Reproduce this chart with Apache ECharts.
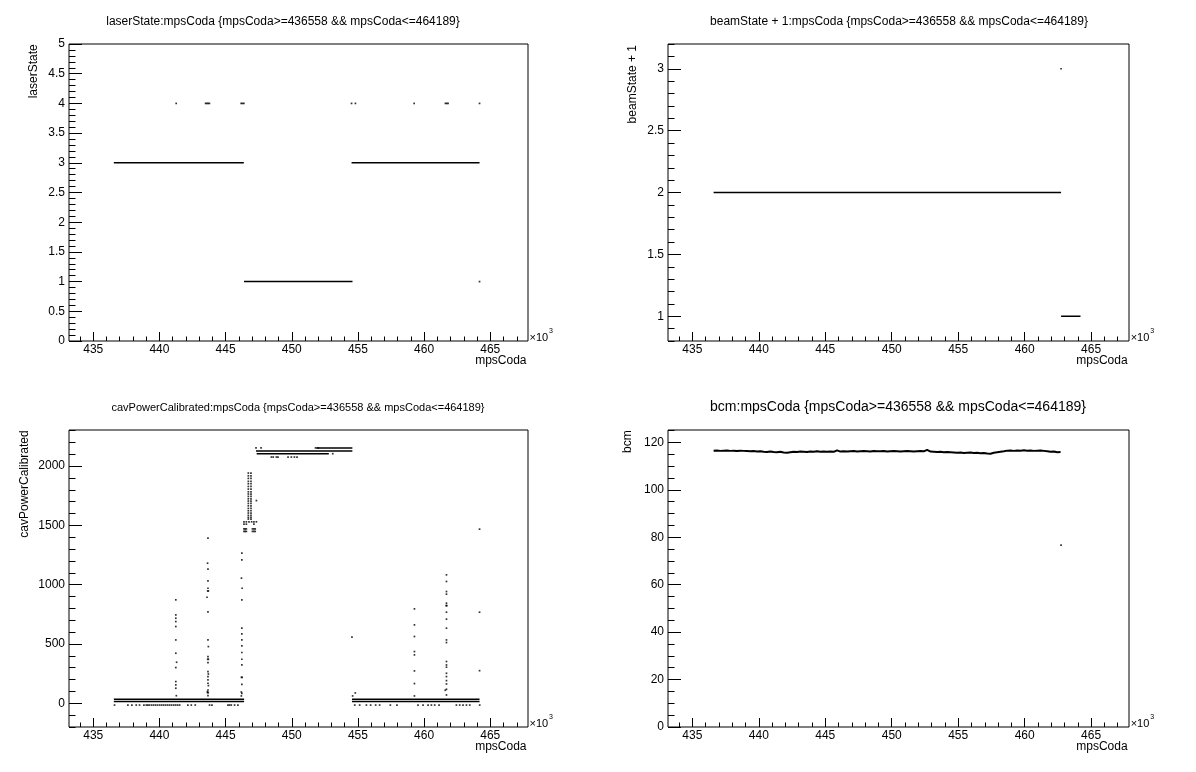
<!DOCTYPE html>
<html>
<head>
<meta charset="utf-8">
<script src="https://cdn.jsdelivr.net/npm/echarts@6/dist/echarts.min.js"></script>
<style>html,body{margin:0;padding:0;background:#fff}#c{width:1196px;height:772px}</style>
</head>
<body>
<div id="c"></div>
<script>
// ---------------- data ----------------
const X_MIN = 433170, X_MAX = 467850;
const xMajorTicks = [435000, 440000, 445000, 450000, 455000, 460000, 465000];

// panel 1: laserState
const laserYTicks = [0, 0.5, 1, 1.5, 2, 2.5, 3, 3.5, 4, 4.5, 5];
const laserRuns = [[436558, 446380, 3], [446390, 454590, 1], [454520, 464189, 3]];
const laserDots = [[441270,4],[443490,4],[443580,4],[443680,4],[443780,4],[446180,4],[446280,4],[446380,4],
  [454520,4],[454810,4],[459250,4],[461610,4],[461710,4],[461810,4],[464189,4],[464189,1]];

// panel 2: beamState + 1
const beamYTicks = [1, 1.5, 2, 2.5, 3];
const beamRuns = [[436600, 462740, 2], [462740, 464200, 1]];
const beamDots = [[462740, 3]];

// panel 3: cavPowerCalibrated
const cavYTicks = [0, 500, 1000, 1500, 2000];
const cavRuns = [[436558, 446400, 34], [436558, 446400, 14], [454550, 464189, 34], [454550, 464189, 14],
  [451850, 454580, 2153], [447300, 454580, 2128], [447350, 452800, 2103]];
const cavLowDots = [[436610,-15],[437620,-15],[437920,-15],[438250,-15],[438500,-15],[438830,-15],[439010,-15],
  [439130,-15],[439250,-15],[439410,-15],[439560,-15],[439710,-15],[439860,-15],[440020,-15],[440170,-15],
  [440320,-15],[440470,-15],[440620,-15],[440770,-15],[440920,-15],[441080,-15],[441230,-15],[441380,-15],
  [441530,-15],[442150,-15],[442410,-15],[442710,-15],[443790,-15],[443970,-15],[445180,-15],[445300,-15],
  [445430,-15],[445680,-15],[445930,-15],
  [454760,-15],[455130,-15],[455640,-15],[455960,-15],[456340,-15],[456640,-15],[457450,-15],[457950,-15],
  [459540,-15],[459920,-15],[460300,-15],[460550,-15],[460800,-15],[461130,-15],[462440,-15],[462690,-15],
  [462940,-15],[463200,-15],[463450,-15],[464200,-15]];
const cavSpikeDots = [
  [441240,872],[441240,745],[441240,717],[441240,689],[441240,647],[441240,534],[441240,422],[441300,346],
  [441240,301],[441240,183],[441240,155],[441240,127],[441280,64],
  [443670,1392],[443640,1181],[443670,1131],[443670,1032],[443670,970],[443650,947],[443700,947],[443600,894],
  [443670,771],[443670,534],[443700,478],[443670,394],[443650,371],[443700,371],[443670,343],[443670,267],
  [443700,247],[443670,225],[443670,197],[443670,169],[443700,149],[443670,112],[443640,90],[443690,90],
  [443630,98],[443670,64],
  [446230,1266],[446230,1209],[446200,1055],[446250,970],[446230,872],[446230,633],[446230,585],[446230,534],
  [446230,484],[446230,428],[446230,371],[446230,323],[446200,219],[446250,219],[446230,160],[446230,84],
  [446190,62],[446190,95],
  [454550,557],[454600,62],[454800,87],
  [459270,796],[459270,661],[459270,563],[459270,436],[459270,408],[459270,273],[459270,166],[459270,62],
  [461690,1083],[461690,1027],[461690,942],[461690,920],[461690,844],[461660,824],[461720,824],[461690,768],
  [461690,709],[461690,633],[461690,534],[461690,512],[461690,352],[461690,323],[461690,304],[461690,253],
  [461690,225],[461690,191],[461690,163],[461690,118],[461690,70],[461600,110],
  [464190,1468],[464190,768],[464190,275]];
const cavRampDots = [
  [446720,1941],[446920,1941],[446720,1918],[446920,1918],[446720,1896],[446920,1896],[446720,1871],[446920,1871],
  [446720,1851],[446920,1851],[446720,1828],[446920,1828],[446720,1806],[446920,1806],[446720,1783],[446920,1783],
  [446720,1764],[446920,1764],[446720,1744],[446920,1744],[446720,1724],[446920,1724],[446720,1705],[446920,1705],
  [446720,1685],[446920,1685],[446720,1665],[446920,1665],[446720,1643],[446920,1643],[446720,1623],[446920,1623],
  [446720,1604],[446920,1604],[446720,1584],[446920,1584],[446720,1567],[446920,1567],[446720,1553],[446920,1553],
  [446390,1530],[446570,1530],[446770,1530],[446970,1530],[447140,1530],[447330,1530],
  [446390,1510],[446570,1510],[447140,1510],
  [446390,1470],[446480,1470],[446570,1470],[447030,1470],[447140,1470],[447240,1470],
  [446390,1449],[446480,1449],[446570,1449],[447030,1449],[447140,1449],[447240,1449],[447330,1709]];
const cavUpperDots = [[447300,2153],[447680,2153],[451800,2153],[452000,2153],[448460,2076],[448600,2076],
  [448840,2076],[448960,2076],[449720,2076],[449970,2076],[450200,2076],[450400,2076],[453100,2104]];

// panel 4: bcm
const bcmYTicks = [0, 20, 40, 60, 80, 100, 120];
const bcmStart = 436600, bcmStep = 251;
const bcmValues = [
  116.5,116.6,116.4,116.5,116.6,116.4,116.5,116.3,116.5,116.4,
  116.3,116.2,116.3,116.1,116.2,
  116.0,115.9,116.1,115.9,115.8,116.0,115.7,115.6,115.8,
  116.0,115.9,116.1,116.0,115.9,116.1,116.0,116.2,116.0,116.1,116.0,
  116.1,116.0,116.6,116.1,116.2,116.1,
  116.2,116.3,116.1,116.2,116.3,116.2,116.1,116.3,116.2,116.2,116.3,116.1,116.2,116.3,116.2,116.1,116.2,116.3,116.2,116.1,116.2,116.3,116.2,
  116.8,
  116.1,116.0,115.9,116.0,115.8,115.9,115.8,
  115.7,115.6,115.7,115.5,115.6,115.7,115.5,115.6,115.4,115.5,115.3,
  115.2,
  115.6,115.8,116.0,116.2,
  116.5,116.6,116.4,116.6,116.5,116.7,116.5,116.6,116.4,116.5,116.6,116.4,
  116.2,116.0,116.1,115.8,115.9];
const bcmDots = [[462740, 76.7]];

// ---------------- chart ----------------
const FONT = '"Liberation Sans", Arial, Helvetica, sans-serif';
function steps(a, b, s) { const o = []; for (let i = 0; a + i * s <= b + 1e-9; i++) o.push(+(a + i * s).toFixed(6)); return o; }
const xMinorTicks = steps(434000, 467000, 1000);

const panels = [
  { grid: {left: 69, top: 44, width: 459, height: 297}, yMin: 0, yMax: 5, yMajor: laserYTicks, yMinor: steps(0, 5, 0.1) },
  { grid: {left: 668, top: 44, width: 461, height: 297}, yMin: 0.8, yMax: 3.2, yMajor: beamYTicks, yMinor: steps(0.8, 3.2, 0.1) },
  { grid: {left: 69, top: 430, width: 459, height: 297}, yMin: -200, yMax: 2304, yMajor: cavYTicks, yMinor: steps(-200, 2300, 100) },
  { grid: {left: 668, top: 430, width: 461, height: 297}, yMin: 0, yMax: 125.2, yMajor: bcmYTicks, yMinor: steps(0, 125, 5) }
];

const grids = [], xAxes = [], yAxes = [], series = [];
panels.forEach((p, i) => {
  grids.push(Object.assign({ show: true, borderColor: '#000', borderWidth: 1, backgroundColor: '#fff', containLabel: false, outerBoundsMode: 'none' }, p.grid));
  const common = { type: 'value', gridIndex: i, splitLine: {show: false}, axisLine: {show: false, onZero: false}, axisPointer: {show: false} };
  xAxes.push(Object.assign({}, common, { min: X_MIN, max: X_MAX, position: 'bottom',
    axisTick: {show: true, inside: true, length: 9, customValues: xMajorTicks, lineStyle: {color: '#000', width: 1}},
    axisLabel: {show: true, customValues: xMajorTicks, formatter: v => String(Math.round(v / 1000)), margin: 3, color: '#000', fontSize: 12, fontFamily: FONT}
  }));
  xAxes.push(Object.assign({}, common, { min: X_MIN, max: X_MAX, position: 'bottom',
    axisTick: {show: true, inside: true, length: 4.5, customValues: xMinorTicks, lineStyle: {color: '#000', width: 1}},
    axisLabel: {show: false}
  }));
  yAxes.push(Object.assign({}, common, { min: p.yMin, max: p.yMax, position: 'left',
    axisTick: {show: true, inside: true, length: 13, customValues: p.yMajor, lineStyle: {color: '#000', width: 1}},
    axisLabel: {show: true, customValues: p.yMajor, formatter: v => String(v), margin: 4, color: '#000', fontSize: 12, fontFamily: FONT}
  }));
  yAxes.push(Object.assign({}, common, { min: p.yMin, max: p.yMax, position: 'left',
    axisTick: {show: true, inside: true, length: 6.5, customValues: p.yMinor, lineStyle: {color: '#000', width: 1}},
    axisLabel: {show: false}
  }));
});

function runSeries(runs, gi) {
  runs.forEach(r => series.push({ type: 'line', xAxisIndex: 2 * gi, yAxisIndex: 2 * gi, symbol: 'none', silent: true,
    data: [[r[0], r[2]], [r[1], r[2]]], lineStyle: {color: '#000', width: 1.5} }));
}
function dotSeries(dots, gi) {
  series.push({ type: 'scatter', xAxisIndex: 2 * gi, yAxisIndex: 2 * gi, symbol: 'rect', symbolSize: 1.7, silent: true,
    data: dots, itemStyle: {color: '#000'} });
}
runSeries(laserRuns, 0); dotSeries(laserDots, 0);
runSeries(beamRuns, 1); dotSeries(beamDots, 1);
runSeries(cavRuns, 2); dotSeries(cavLowDots, 2); dotSeries(cavSpikeDots, 2); dotSeries(cavRampDots, 2); dotSeries(cavUpperDots, 2);
series.push({ type: 'line', xAxisIndex: 6, yAxisIndex: 6, symbol: 'none', silent: true,
  data: bcmValues.map((v, k) => [bcmStart + k * bcmStep, v]), lineStyle: {color: '#000', width: 2} });
dotSeries(bcmDots, 3);

function txt(x, y, text, size, align, vAlign, rot) {
  return { type: 'text', x: x, y: y, rotation: rot || 0, silent: true,
    style: { text: text, fill: '#000', fontSize: size, fontFamily: FONT, align: align, verticalAlign: vAlign } };
}
const cond = ' {mpsCoda>=436558 && mpsCoda<=464189}';
const graphics = [
  txt(283, 21.7, 'laserState:mpsCoda' + cond, 12, 'center', 'middle'),
  txt(899, 21.7, 'beamState + 1:mpsCoda' + cond, 12, 'center', 'middle'),
  txt(298, 407.7, 'cavPowerCalibrated:mpsCoda' + cond, 11, 'center', 'middle'),
  txt(898, 406.7, 'bcm:mpsCoda' + cond, 14, 'center', 'middle'),
  txt(33.7, 44.3, 'laserState', 12, 'right', 'middle', Math.PI / 2),
  txt(633, 45, 'beamState + 1', 12, 'right', 'middle', Math.PI / 2),
  txt(24.2, 430.3, 'cavPowerCalibrated', 12, 'right', 'middle', Math.PI / 2),
  txt(628, 430.3, 'bcm', 12, 'right', 'middle', Math.PI / 2)
];
[[0, 0, 526.5, 529.5], [600, 0, 1127.6, 1130.7], [0, 386, 526.5, 529.5], [600, 386, 1127.6, 1130.7]].forEach(o => {
  graphics.push(txt(o[2], o[1] + 361, 'mpsCoda', 12, 'right', 'middle'));
  graphics.push(txt(o[3], o[1] + 337.5, '\u00d710', 11, 'left', 'middle'));
  graphics.push(txt(o[3] + 19.6, o[1] + 331, '3', 7, 'left', 'middle'));
});

const chart = echarts.init(document.getElementById('c'), null, {renderer: 'canvas'});
chart.setOption({
  animation: false,
  backgroundColor: '#fff',
  grid: grids, xAxis: xAxes, yAxis: yAxes, series: series, graphic: graphics
});
</script>
</body>
</html>
